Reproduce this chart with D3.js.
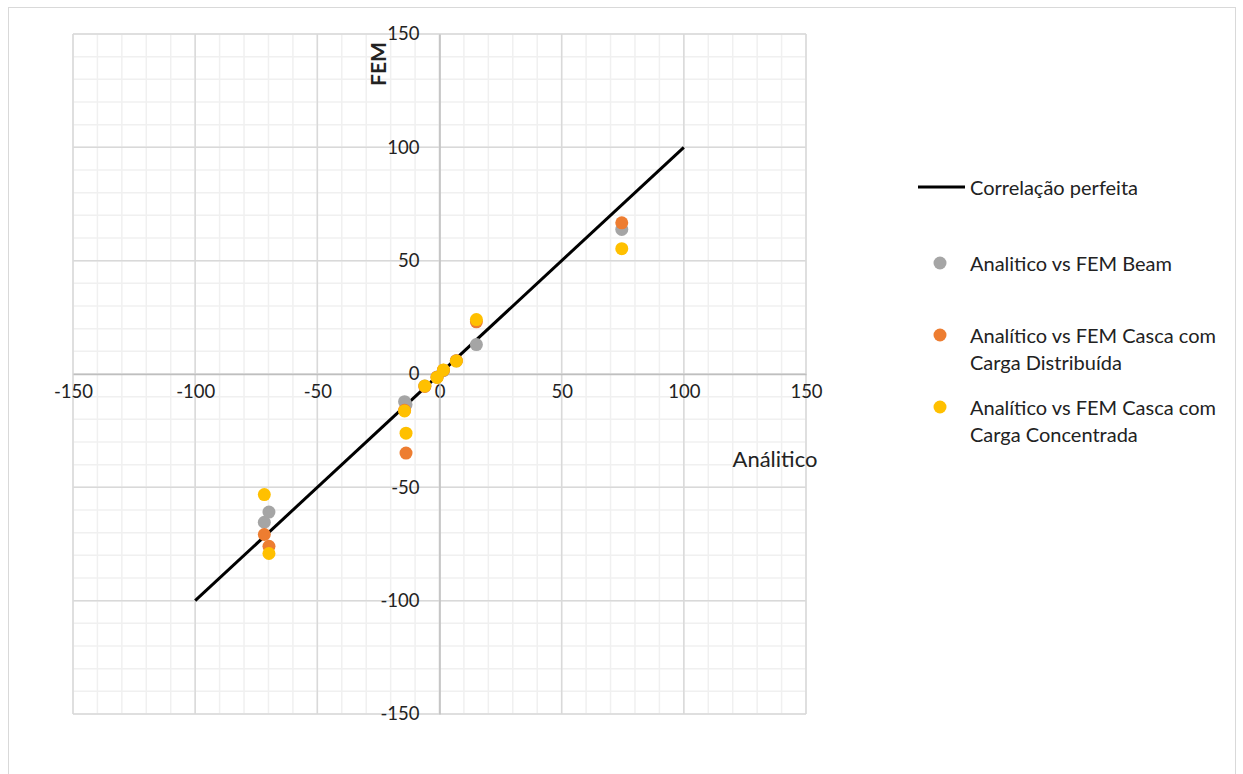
<!DOCTYPE html>
<html>
<head>
<meta charset="utf-8">
<script src="https://cdn.jsdelivr.net/npm/d3@7"></script>
<style>
  body { margin: 0; background: #fff; }
  text { font-family: Lato, "Open Sans", sans-serif; fill: #222; }
</style>
</head>
<body>
<div id="chart"></div>
<script>
// data
const analitico   = [-71.7, -69.8, -14.3, -13.7, -6.0, -1.0, 1.6, 6.9, 15.1, 74.6];
const femBeam     = [-65.4, -60.9, -12.2, -13.5, -5.3, -1.3, 1.5, 5.8, 13.0, 63.8];
const femDistrib  = [-70.8, -76.0, -16.0, -34.9, -5.5, -1.4, 1.7, 5.9, 23.0, 66.7];
const femConcent  = [-53.2, -79.2, -16.3, -26.1, -5.3, -1.5, 1.8, 5.7, 24.0, 55.3];
const perfeita    = [[-100, -100], [100, 100]];
const tickValues  = [-150, -100, -50, 0, 50, 100, 150];
const seriesNames = ["Analitico vs FEM Beam", "Analítico vs FEM Casca com|Carga Distribuída", "Analítico vs FEM Casca com|Carga Concentrada"];
const seriesColors = ["#a5a5a5", "#ed7d31", "#ffc000"];

const W = 1243, H = 774;
const plot = {left: 73, right: 806, top: 34, bottom: 714};

const svg = d3.select("#chart").append("svg")
  .attr("width", W).attr("height", H);

svg.append("rect").attr("width", W).attr("height", H).attr("fill", "#fff");
// outer chart border
svg.append("rect")
  .attr("x", 8.5).attr("y", 7.5).attr("width", 1227).attr("height", 800)
  .attr("fill", "none").attr("stroke", "#d9d9d9");

const x = d3.scaleLinear().domain([-150, 150]).range([plot.left, plot.right]);
const y = d3.scaleLinear().domain([-150, 150]).range([plot.bottom, plot.top]);

// minor grid
const minor = d3.range(-150, 151, 10);
const grid = svg.append("g");
grid.selectAll(".vminor").data(minor).enter().append("line")
  .attr("x1", d => x(d)).attr("x2", d => x(d))
  .attr("y1", plot.top).attr("y2", plot.bottom)
  .attr("stroke", "#f0f0f0").attr("stroke-width", 1.5);
grid.selectAll(".hminor").data(minor).enter().append("line")
  .attr("y1", d => y(d)).attr("y2", d => y(d))
  .attr("x1", plot.left).attr("x2", plot.right)
  .attr("stroke", "#f0f0f0").attr("stroke-width", 1.5);
// major grid
grid.selectAll(".vmajor").data(tickValues).enter().append("line")
  .attr("x1", d => x(d)).attr("x2", d => x(d))
  .attr("y1", plot.top).attr("y2", plot.bottom)
  .attr("stroke", "#d9d9d9").attr("stroke-width", 1.5);
grid.selectAll(".hmajor").data(tickValues).enter().append("line")
  .attr("y1", d => y(d)).attr("y2", d => y(d))
  .attr("x1", plot.left).attr("x2", plot.right)
  .attr("stroke", "#d9d9d9").attr("stroke-width", 1.5);

// axes through zero
const fmt = d => String(d);
const xAxis = svg.append("g")
  .attr("transform", `translate(0, ${y(0)})`)
  .call(d3.axisBottom(x).tickValues(tickValues).tickFormat(fmt).tickSize(0).tickPadding(20));
xAxis.select(".domain").attr("stroke", "#bfbfbf").attr("stroke-width", 1.5);
xAxis.selectAll("text").style("font-size", "18.5px").attr("fill", "#222").attr("dy", "0.2em");

const yAxis = svg.append("g")
  .attr("transform", `translate(${x(0)}, 0)`)
  .call(d3.axisLeft(y).tickValues(tickValues).tickFormat(fmt).tickSize(0).tickPadding(20));
yAxis.select(".domain").attr("stroke", "#bfbfbf").attr("stroke-width", 1.5);
yAxis.selectAll("text").style("font-size", "18.5px").attr("fill", "#222");

// axis titles
svg.append("text")
  .attr("transform", `translate(386, 64) rotate(-90)`)
  .attr("text-anchor", "middle")
  .style("font-size", "21px").style("font-weight", "bold")
  .text("FEM");
svg.append("text")
  .attr("x", 775).attr("y", 467)
  .attr("text-anchor", "middle")
  .style("font-size", "22px")
  .text("Análitico");

// perfect correlation line
const line = d3.line().x(d => x(d[0])).y(d => y(d[1]));
svg.append("path").datum(perfeita)
  .attr("d", line).attr("fill", "none")
  .attr("stroke", "#000").attr("stroke-width", 3);

// scatter points
[femBeam, femDistrib, femConcent].forEach((vals, s) => {
  const pts = analitico.map((a, i) => ({a: a, f: vals[i]}));
  svg.append("g").selectAll("circle").data(pts).enter().append("circle")
    .attr("cx", d => x(d.a)).attr("cy", d => y(d.f))
    .attr("r", 6.5).attr("fill", seriesColors[s]);
});

// legend
const leg = svg.append("g");
leg.append("line").attr("x1", 918).attr("x2", 965).attr("y1", 187).attr("y2", 187)
  .attr("stroke", "#000").attr("stroke-width", 3);
leg.append("text").attr("x", 970).attr("y", 188).attr("dy", "0.35em")
  .style("font-size", "20px").text("Correlação perfeita");
const legY = [263, 335, 407];
seriesNames.forEach((name, i) => {
  leg.append("circle").attr("cx", 940).attr("cy", legY[i]).attr("r", 6.5).attr("fill", seriesColors[i]);
  name.split("|").forEach((ln, j) => {
    leg.append("text").attr("x", 970).attr("y", legY[i] + 1 + j * 27).attr("dy", "0.35em")
      .style("font-size", "20px").text(ln);
  });
});
</script>
</body>
</html>
